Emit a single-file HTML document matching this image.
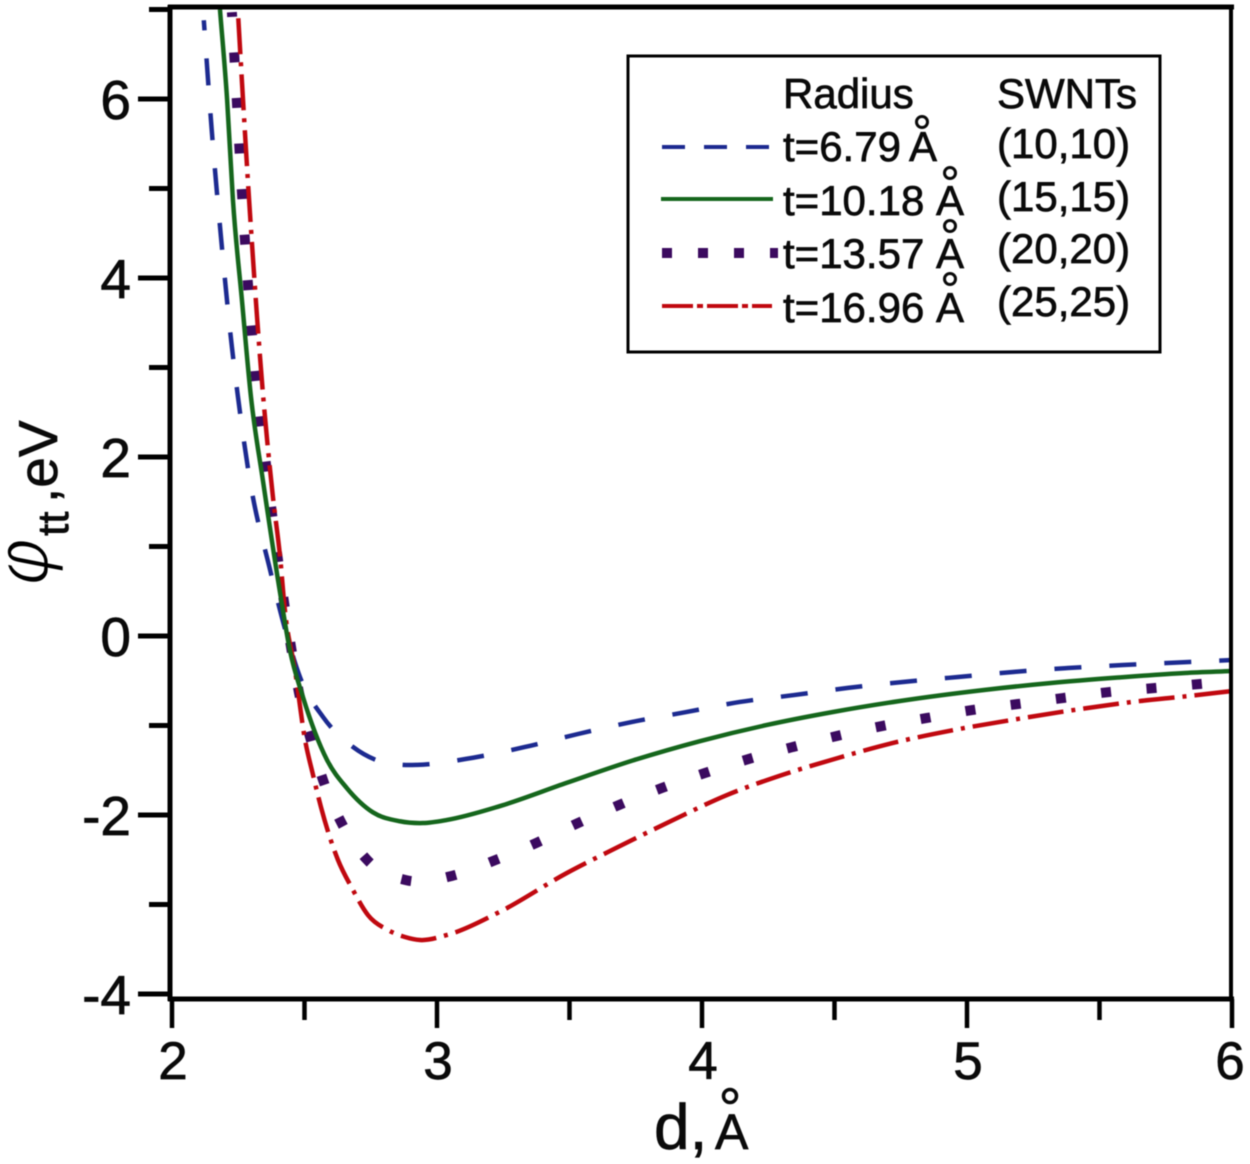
<!DOCTYPE html>
<html lang="en">
<head>
<meta charset="utf-8">
<title>Tube-tube potential</title>
<style>
html,body{margin:0;padding:0;background:#fff;}
svg{display:block;filter:blur(0.5px);}
text{font-family:"Liberation Sans",sans-serif;fill:#0a0a0a;stroke:#0a0a0a;stroke-width:0.7px;}
</style>
</head>
<body>
<svg id="chart" xmlns="http://www.w3.org/2000/svg" width="1250" height="1164" viewBox="0 0 1250 1164">
  <defs>
    <clipPath id="plot-clip"><rect x="170" y="7" width="1062" height="992"/></clipPath>
  </defs>
  <rect x="0" y="0" width="1250" height="1164" fill="#fff"/>
  <g id="ticks"></g>
  <g id="series" clip-path="url(#plot-clip)"></g>
  <g stroke="#000" fill="none">
    <line x1="170" y1="5" x2="170" y2="1001" stroke-width="5"/>
    <line x1="168" y1="7" x2="1234" y2="7" stroke-width="5"/>
    <line x1="1231" y1="5" x2="1231" y2="1001" stroke-width="4"/>
    <line x1="168" y1="999" x2="1234" y2="999" stroke-width="5"/>
  </g>

  <g>
    <text transform="translate(48,588) rotate(-90)" font-size="76" style="font-family:'DejaVu Sans',sans-serif;font-style:oblique;fill:#000;stroke:#fff;stroke-width:2.6px">φ</text>
    <text transform="translate(68,536) rotate(-90)" font-size="44">tt</text>
    <text transform="translate(57,503) rotate(-90)" font-size="55">,eV</text>
  </g>

  <g>
    <text x="654" y="1149" font-size="64">d,</text>
    <text x="715" y="1149" font-size="50">A</text>
    <circle cx="730" cy="1096" r="6.5" fill="none" stroke="#0a0a0a" stroke-width="3.5"/>
  </g>

  <g>
    <rect x="628" y="56" width="532" height="296" fill="#fff" stroke="#000" stroke-width="3"/>
    <text x="783" y="108" font-size="42">Radius</text>
    <text x="997" y="108" font-size="42">SWNTs</text>

    <line x1="662" y1="147" x2="772" y2="147" stroke="#1c2a90" stroke-width="4" stroke-dasharray="23 19"/>
    <text x="783" y="161" font-size="42">t=6.79</text>
    <text x="909" y="161" font-size="42">A</text>
    <circle cx="922" cy="122" r="5.5" fill="none" stroke="#0a0a0a" stroke-width="3"/>
    <text x="997" y="158" font-size="42">(10,10)</text>

    <line x1="661" y1="199" x2="773" y2="199" stroke="#15661c" stroke-width="4"/>
    <text x="783" y="215" font-size="42">t=10.18</text>
    <text x="936" y="215" font-size="42">A</text>
    <circle cx="950" cy="173" r="5.5" fill="none" stroke="#0a0a0a" stroke-width="3"/>
    <text x="997" y="211" font-size="42">(15,15)</text>

    <line x1="662" y1="253" x2="778" y2="253" stroke="#3b0a5f" stroke-width="10" stroke-dasharray="10 26"/>
    <text x="783" y="268" font-size="42">t=13.57</text>
    <text x="936" y="268" font-size="42">A</text>
    <circle cx="950" cy="226" r="5.5" fill="none" stroke="#0a0a0a" stroke-width="3"/>
    <text x="997" y="263" font-size="42">(20,20)</text>

    <line x1="662" y1="306" x2="772" y2="306" stroke="#c0080f" stroke-width="4" stroke-dasharray="31 4 6 4"/>
    <text x="783" y="322" font-size="42">t=16.96</text>
    <text x="936" y="322" font-size="42">A</text>
    <circle cx="950" cy="279" r="5.5" fill="none" stroke="#0a0a0a" stroke-width="3"/>
    <text x="997" y="316" font-size="42">(25,25)</text>
  </g>
</svg>
<script>
// Chart data (d in angstrom, potential in eV)
const blueD = [2.12,2.15,2.185,2.226,2.249,2.294,2.37,2.434,2.483,2.57,2.683,2.774,2.872,2.925,3.136,3.332,3.532,3.736,3.94,4.143,4.347,4.551,4.758,4.966,5.174,5.381,5.589,5.796,6];
const blueV = [6.88,5.65,4.45,3.23,2.67,1.74,0.74,0,-0.46,-0.905,-1.24,-1.39,-1.44,-1.44,-1.36,-1.24,-1.095,-0.96,-0.85,-0.737,-0.66,-0.58,-0.514,-0.458,-0.402,-0.358,-0.324,-0.296,-0.268];
const greenD = [2.181,2.208,2.23,2.264,2.298,2.343,2.408,2.445,2.494,2.585,2.66,2.758,2.86,2.947,3.038,3.238,3.49,3.74,3.992,4.245,4.494,4.747,5.064,5.317,5.57,5.823,6];
const greenV = [7,5.99,4.87,3.75,2.67,1.74,0.48,-0.16,-0.68,-1.385,-1.7,-1.97,-2.07,-2.09,-2.055,-1.9,-1.64,-1.39,-1.175,-0.994,-0.849,-0.726,-0.603,-0.525,-0.464,-0.413,-0.391];
const purpleD = [2.226,2.245,2.264,2.287,2.317,2.355,2.4,2.449,2.479,2.521,2.57,2.638,2.736,2.887,3.057,3.215,3.374,3.532,3.687,3.849,4.011,4.177,4.343,4.509,4.679,4.849,5.019,5.192,5.362,5.536,5.709,5.879,6];
const purpleV = [6.97,5.96,4.95,3.92,2.9,1.91,0.85,-0.12,-0.63,-1.13,-1.61,-2.08,-2.5,-2.73,-2.68,-2.51,-2.313,-2.09,-1.888,-1.698,-1.531,-1.374,-1.24,-1.117,-1.006,-0.916,-0.827,-0.76,-0.693,-0.626,-0.581,-0.536,-0.503];
const redD = [2.249,2.268,2.291,2.306,2.321,2.343,2.358,2.381,2.408,2.426,2.464,2.502,2.532,2.562,2.626,2.679,2.74,2.815,2.879,2.936,3.038,3.238,3.49,3.683,3.891,4.094,4.302,4.513,4.736,4.951,5.177,5.392,5.623,5.838,6];
const redV = [6.96,5.99,4.87,4.2,3.56,2.715,2.22,1.55,0.88,0.29,-0.38,-1.16,-1.55,-1.91,-2.5,-2.816,-3.12,-3.285,-3.363,-3.397,-3.34,-3.08,-2.648,-2.358,-2.056,-1.777,-1.553,-1.363,-1.184,-1.05,-0.934,-0.832,-0.737,-0.67,-0.615];

const xMajorTicks = [2,3,4,5,6];
const xMinorTicks = [2.5,3.5,4.5,5.5];
const yMajorTicks = [-4,-2,0,2,4,6];
const yMinorTicks = [-3,-1,1,3,5,7];

const SVG_NS = 'http://www.w3.org/2000/svg';
function xScale(d){ return 172 + (d - 2) * 265; }
function yScale(v){ return 636 - v * 89.5; }

function smoothPath(xs, ys){
  const n = xs.length, dx = [], m = [], t = [];
  for (let i = 0; i < n - 1; i++){
    dx[i] = xs[i+1] - xs[i];
    m[i] = (ys[i+1] - ys[i]) / dx[i];
  }
  t[0] = m[0];
  t[n-1] = m[n-2];
  for (let i = 1; i < n - 1; i++){
    t[i] = (m[i-1] * dx[i] + m[i] * dx[i-1]) / (dx[i] + dx[i-1]);
  }
  let p = 'M' + xs[0].toFixed(2) + ' ' + ys[0].toFixed(2);
  for (let i = 0; i < n - 1; i++){
    const c1x = xs[i] + dx[i] / 3, c1y = ys[i] + t[i] * dx[i] / 3;
    const c2x = xs[i+1] - dx[i] / 3, c2y = ys[i+1] - t[i+1] * dx[i] / 3;
    p += 'C' + c1x.toFixed(2) + ' ' + c1y.toFixed(2) + ' ' + c2x.toFixed(2) + ' ' + c2y.toFixed(2) + ' ' + xs[i+1].toFixed(2) + ' ' + ys[i+1].toFixed(2);
  }
  return p;
}

// Align a dash pattern so that a chosen point of the pattern falls at a given d value
function dashOffsetFor(path, anchorD, patternPos, period){
  const target = xScale(anchorD);
  let lo = 0, hi = path.getTotalLength();
  for (let i = 0; i < 40; i++){
    const mid = (lo + hi) / 2;
    if (path.getPointAtLength(mid).x < target){ lo = mid; } else { hi = mid; }
  }
  return ((patternPos - lo) % period + period) % period;
}

const seriesLayer = document.getElementById('series');
function drawCurve(name, ds, vs, color, width, dash, anchorD, patternPos, period){
  const path = document.createElementNS(SVG_NS, 'path');
  
  
  path.setAttribute('d', smoothPath(ds.map(xScale), vs.map(yScale)));
  path.setAttribute('fill', 'none');
  path.setAttribute('stroke', color);
  path.setAttribute('stroke-width', width);
  seriesLayer.appendChild(path);
  if (dash){
    path.setAttribute('stroke-dasharray', dash);
    path.setAttribute('stroke-dashoffset', dashOffsetFor(path, anchorD, patternPos, period));
  }
}
drawCurve('curve-blue-10-10', blueD, blueV, '#1c2a90', 4.5, '27 28', 3.33, 13.5, 55);
drawCurve('curve-purple-20-20', purpleD, purpleV, '#3b0a5f', 10, '10 35.6', 3.374, 5, 45.6);
drawCurve('curve-red-25-25', redD, redV, '#c0080f', 4.5, '36 8 4 8', 3.785, 46, 56);
drawCurve('curve-green-15-15', greenD, greenV, '#15661c', 4.5, null);

const tickLayer = document.getElementById('ticks');
function addLine(name, x1, y1, x2, y2, w){
  const l = document.createElementNS(SVG_NS, 'line');
  
  
  l.setAttribute('x1', x1);
  l.setAttribute('y1', y1);
  l.setAttribute('x2', x2);
  l.setAttribute('y2', y2);
  l.setAttribute('stroke', '#000');
  l.setAttribute('stroke-width', w);
  tickLayer.appendChild(l);
}
function addLabel(name, x, y, anchor, size, str){
  const t = document.createElementNS(SVG_NS, 'text');
  
  
  t.setAttribute('x', x);
  t.setAttribute('y', y);
  t.setAttribute('text-anchor', anchor);
  t.setAttribute('font-size', size);
  t.textContent = str;
  tickLayer.appendChild(t);
}
xMajorTicks.forEach(function(d){
  const x = xScale(d);
  addLine('x-major-tick', x, 999, x, 1028, 4.5);
  addLabel('x-tick-label', x + (d === 6 ? -2 : 1), 1079, 'middle', 53, String(d));
});
xMinorTicks.forEach(function(d){
  const x = xScale(d);
  addLine('x-minor-tick', x, 999, x, 1020, 4.5);
});
yMajorTicks.forEach(function(v){
  const y = yScale(v);
  addLine('y-major-tick', 138, y, 170, y, 5);
  addLabel('y-tick-label', 131, y + 20, 'end', 55, String(v));
});
yMinorTicks.forEach(function(v){
  const y = yScale(v);
  addLine('y-minor-tick', 149, y, 170, y, 5);
});
</script>
</body>
</html>
